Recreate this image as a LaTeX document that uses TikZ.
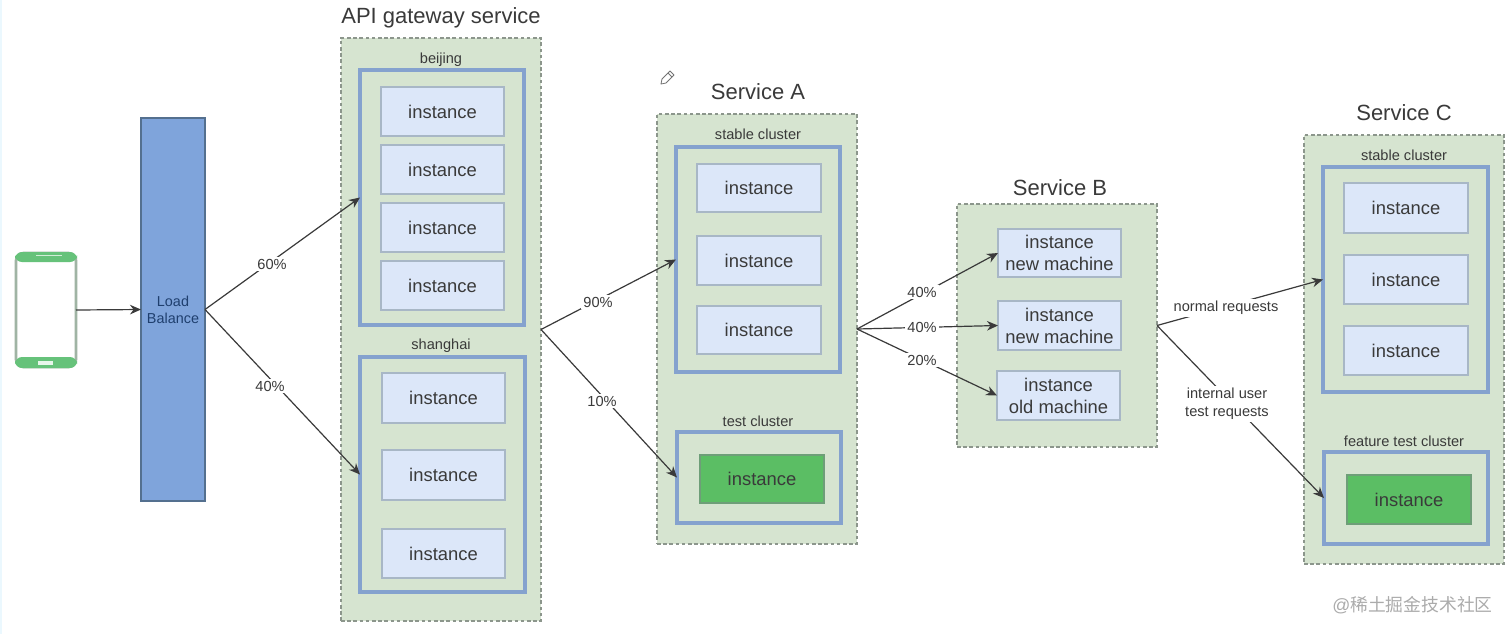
\documentclass[tikz,border=0pt]{standalone}
\usepackage{fontspec}
\setmainfont{Liberation Sans}
\newfontfamily\cjkwm{Noto Sans CJK SC}
\usetikzlibrary{arrows.meta}
\definecolor{contfill}{HTML}{D6E4D0}
\definecolor{contline}{HTML}{8C968C}
\definecolor{clusterline}{HTML}{85A2CE}
\definecolor{instfill}{HTML}{DCE7F9}
\definecolor{instline}{HTML}{A8B7C6}
\definecolor{greeninst}{HTML}{5BBE64}
\definecolor{greenline}{HTML}{6E9E78}
\definecolor{lbfill}{HTML}{7FA4DB}
\definecolor{lbline}{HTML}{54708F}
\definecolor{lbtext}{HTML}{1F3F6E}
\definecolor{phonegreen}{HTML}{66C27A}
\definecolor{phoneline}{HTML}{A0B4A4}
\definecolor{txt}{HTML}{3A3A3A}
\definecolor{arrowc}{HTML}{3A3A3A}
\tikzset{
  box/.style={rectangle,inner sep=0pt,outer sep=0pt,align=center,text=txt},
  container/.style={box,fill=contfill,draw=contline,dash pattern=on 1.8pt off 1.3pt,line width=0.55pt},
  cluster/.style={box,fill=contfill,draw=clusterline,line width=2.1pt},
  inst/.style={box,fill=instfill,draw=instline,line width=0.6pt,font=\fontsize{9.2}{11}\selectfont},
  ginst/.style={box,fill=greeninst,draw=greenline,line width=0.6pt,font=\fontsize{9.2}{11}\selectfont},
  lbox/.style={box,fill=lbfill,draw=lbline,line width=0.6pt,text=lbtext,font=\fontsize{7.2}{8.6}\selectfont},
  titletext/.style={inner sep=0pt,text=txt,font=\fontsize{11}{13}\selectfont},
  captext/.style={inner sep=0pt,text=txt,font=\fontsize{7.3}{8}\selectfont},
  flow/.style={draw=arrowc,line width=0.6pt,-{Stealth[length=5.5pt,width=4.8pt]}},
  elabel/.style={fill=white,inner sep=1pt,align=center,text=txt,font=\fontsize{7.3}{9.2}\selectfont},
}
\newcommand{\bx}[7]{\node[#2,minimum width={(#5-#3)*0.5pt},minimum height={(#6-#4)*0.5pt}] (#1) at ({(#3+#5)/2},{(#4+#6)/2}) {#7};}
\begin{document}
\begin{tikzpicture}[x=0.5pt,y=-0.5pt]
\useasboundingbox (0,0) rectangle (1512,634);
\fill[white] (0,0) rectangle (1512,634);
\fill[cyan!8] (0,0) rectangle (2,634);

% phone
\node[box,draw=phoneline,fill=white,line width=1.4pt,rounded corners=4pt,minimum width=30pt,minimum height=57pt] (phone) at (46,310) {};
\fill[phonegreen,rounded corners=3.5pt] (15,262) -- (15,252) -- (77,252) -- (77,262) -- cycle;
\fill[phonegreen,rounded corners=3.5pt] (15,357) -- (15,368) -- (77,368) -- (77,357) -- cycle;
\fill[white!85!phonegreen] (38,361) rectangle (53,365);
\draw[white!70!phonegreen,line width=0.4pt] (36,255) -- (62,255);

% load balancer
\bx{lb}{lbox}{141}{118}{205}{501}{Load\\Balance}

% API gateway
\bx{api}{container}{341}{38}{541}{621}{}
\node[titletext] (apititle) at (441,17.5) {API gateway service};
\node[captext] (bjcap) at (441,60) {beijing};
\bx{bj}{cluster}{360}{70}{524}{325}{}
\bx{bja}{inst}{381}{87}{504}{136}{instance}
\bx{bjb}{inst}{381}{145}{504}{194}{instance}
\bx{bjc}{inst}{381}{203}{504}{252}{instance}
\bx{bjd}{inst}{381}{261}{504}{310}{instance}
\node[captext] (shcap) at (441,346) {shanghai};
\bx{sh}{cluster}{360}{357}{525}{592}{}
\bx{sha}{inst}{382}{373}{505}{423}{instance}
\bx{shb}{inst}{382}{450}{505}{500}{instance}
\bx{shc}{inst}{382}{529}{505}{578}{instance}

% Service A
\bx{sa}{container}{657}{114}{857}{544}{}
\node[titletext] (satitle) at (758,92) {Service A};
\node[captext] (sacap) at (758,134) {stable cluster};
\bx{sas}{cluster}{676}{147}{840}{372}{}
\bx{saa}{inst}{697}{164}{821}{212}{instance}
\bx{sab}{inst}{697}{236}{821}{285}{instance}
\bx{sac}{inst}{697}{306}{821}{354}{instance}
\node[captext] (satcap) at (758,421) {test cluster};
\bx{sat}{cluster}{677}{432}{841}{523}{}
\bx{sag}{ginst}{700}{455}{824}{503}{instance}

% Service B
\bx{sb}{container}{957}{204}{1157}{447}{}
\node[titletext] (sbtitle) at (1060,188) {Service B};
\bx{sba}{inst}{998}{229}{1121}{277}{instance\\new machine}
\bx{sbb}{inst}{998}{301}{1121}{350}{instance\\new machine}
\bx{sbc}{inst}{997}{371}{1120}{420}{instance\\old machine}

% Service C
\bx{sc}{container}{1304}{135}{1504}{564}{}
\node[titletext] (sctitle) at (1404,113) {Service C};
\node[captext] (sccap) at (1404,155) {stable cluster};
\bx{scs}{cluster}{1323}{167}{1488}{392}{}
\bx{sca}{inst}{1344}{183}{1468}{233}{instance}
\bx{scb}{inst}{1344}{255}{1468}{304}{instance}
\bx{scc}{inst}{1344}{326}{1468}{375}{instance}
\node[captext] (sctcap) at (1404,441) {feature test cluster};
\bx{sct}{cluster}{1324}{452}{1488}{544}{}
\bx{scg}{ginst}{1347}{475}{1471}{524}{instance}

% connectors
\draw[flow] (phone.east) -- (lb.west);
\draw[flow] (lb.east) -- (bj.west);
\draw[flow] (lb.east) -- (sh.west);
\draw[flow] (api.east) -- (sas.west);
\draw[flow] (api.east) -- (sat.west);
\draw[flow] (sa.east) -- (sba.west);
\draw[flow] (sa.east) -- (sbb.west);
\draw[flow] (sa.east) -- (sbc.west);
\draw[flow] (sb.east) -- (scs.west);
\draw[flow] (sb.east) -- (sct.west);

% connector labels
\node[elabel] (l60) at (272,264) {60\%};
\node[elabel] (l40) at (270,386) {40\%};
\node[elabel] (l90) at (598,302) {90\%};
\node[elabel] (l10) at (602,401) {10\%};
\node[elabel] (lb40a) at (922,292) {40\%};
\node[elabel] (lb40b) at (922,327) {40\%};
\node[elabel] (lb20) at (922,360) {20\%};
\node[elabel] (lnorm) at (1226,308) {normal requests};
\node[elabel] (lint) at (1227,404) {internal user\\test requests};

% pencil icon
\draw[draw=black!55,fill=white,line width=0.4pt,line join=round] (661,84) -- (662,79) -- (670,71) -- (674,75) -- (666,83) -- cycle;
\draw[black!55,line width=0.4pt] (668,73) -- (672,77);

% watermark
\node[inner sep=0pt,text=black!33,font=\fontsize{8.9}{11}\selectfont] (wm) at (1412.5,605) {@\cjkwm 稀土掘金技术社区};
\end{tikzpicture}
\end{document}
